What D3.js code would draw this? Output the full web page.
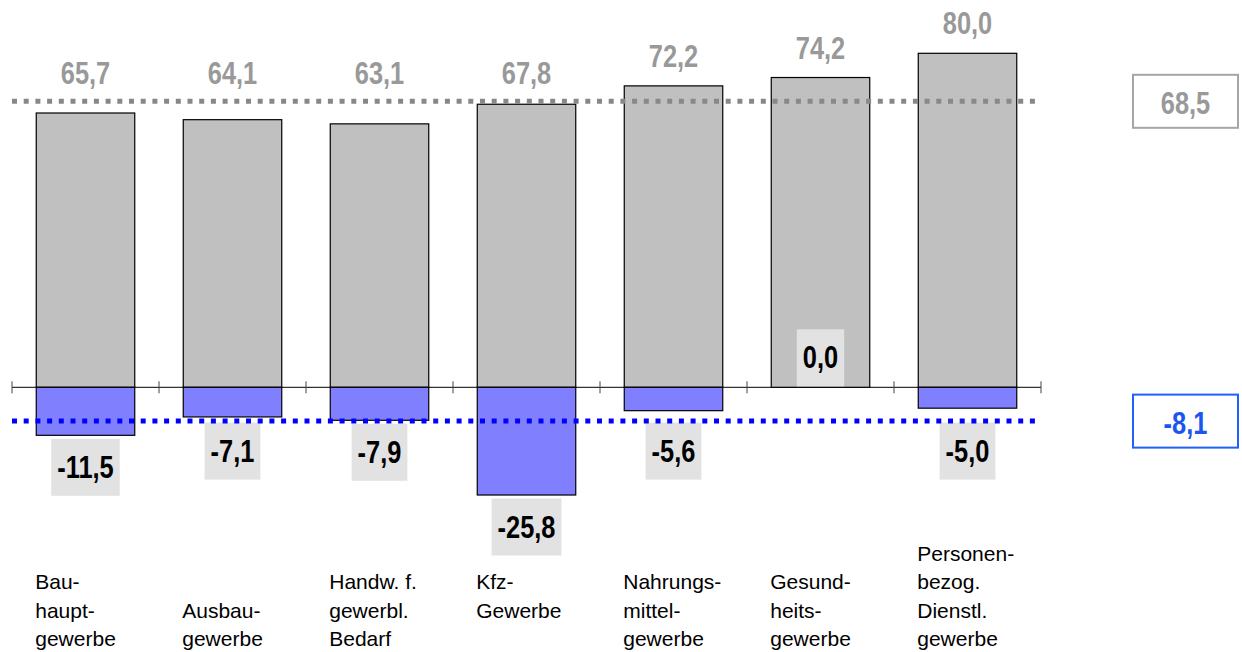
<!DOCTYPE html>
<html>
<head>
<meta charset="utf-8">
<script src="https://cdn.jsdelivr.net/npm/d3@7"></script>
<style>
  html, body { margin: 0; padding: 0; background: #fff; }
  svg { display: block; }
</style>
</head>
<body>
<svg id="chart" width="1242" height="652"></svg>
<script>
// ---------- data ----------
const categories = [
  "Bau-\nhaupt-\ngewerbe",
  "\nAusbau-\ngewerbe",
  "Handw. f.\ngewerbl.\nBedarf",
  "Kfz-\nGewerbe",
  "Nahrungs-\nmittel-\ngewerbe",
  "Gesund-\nheits-\ngewerbe",
  "Personen-\nbezog.\nDienstl.\ngewerbe"
];
const grayValues = [65.7, 64.1, 63.1, 67.8, 72.2, 74.2, 80.0];
const blueValues = [-11.5, -7.1, -7.9, -25.8, -5.6, 0.0, -5.0];
const grayAverage = 68.5;
const blueAverage = -8.1;

// ---------- font detection ----------
function fontAvailable(name) {
  const c = document.createElement("canvas").getContext("2d");
  const s = "65,7 -11,5 abcdefghijklm";
  c.font = "bold 40px monospace";
  const w1 = c.measureText(s).width;
  c.font = "bold 40px '" + name + "', monospace";
  const w2 = c.measureText(s).width;
  return Math.abs(w1 - w2) > 0.5;
}
const hasNarrow = fontAvailable("Liberation Sans Narrow");
const narrowFamily = hasNarrow ? "'Liberation Sans Narrow', 'Arial Narrow'" : "'Liberation Sans', Arial";
const narrowScale = hasNarrow ? 1 : 0.82;

const locale = d3.formatLocale({ decimal: ",", thousands: ".", grouping: [3], currency: ["", "€"], minus: "-" });
const fmt = locale.format(".1f");

// ---------- scales ----------
const svg = d3.select("#chart");
const x = d3.scaleBand()
  .domain(categories)
  .range([12, 1041])
  .paddingInner(0.33)
  .paddingOuter(0.165);
const y = d3.scaleLinear().domain([0, 80]).range([387.3, 53.3]);
const step = x.step();
const y0 = y(0);

const grayData = grayValues.map((v, i) => ({ v, c: categories[i] }));
const blueData = blueValues.map((v, i) => ({ v, c: categories[i] }));

// narrow bold text helper
function narrowText(g, tx, ty, str, size, color) {
  const t = g.append("text")
    .attr("transform", `translate(${tx},${ty}) scale(${narrowScale},1)`)
    .attr("text-anchor", "middle")
    .style("font-family", narrowFamily)
    .style("font-weight", "bold")
    .style("font-size", size + "px")
    .attr("fill", color)
    .text(str);
  return t.node().getComputedTextLength() * narrowScale;
}

// ---------- axis ----------
const axisG = svg.append("g").attr("transform", `translate(0,${y0})`);
axisG.call(d3.axisBottom(x).tickSize(0).tickFormat(""));
axisG.select(".domain").attr("stroke", "#000").attr("stroke-width", 1).attr("d", `M12,0H1041`);
const boundaries = d3.range(categories.length + 1).map(i => 12 + i * step);
axisG.selectAll("line.bt").data(boundaries).enter().append("line")
  .attr("class", "bt")
  .attr("x1", d => d).attr("x2", d => d)
  .attr("y1", -6).attr("y2", 6)
  .attr("stroke", "#444").attr("stroke-width", 1);

// ---------- bars ----------
svg.append("g").selectAll("rect").data(grayData).enter().append("rect")
  .attr("x", d => x(d.c))
  .attr("width", x.bandwidth())
  .attr("y", d => y(d.v))
  .attr("height", d => y0 - y(d.v))
  .attr("fill", "#c0c0c0")
  .attr("stroke", "#000").attr("stroke-width", 1.2);

svg.append("g").selectAll("rect").data(blueData.filter(d => d.v < 0)).enter().append("rect")
  .attr("x", d => x(d.c))
  .attr("width", x.bandwidth())
  .attr("y", y0)
  .attr("height", d => y(d.v) - y0)
  .attr("fill", "#8080ff")
  .attr("stroke", "#000").attr("stroke-width", 1.2);

// ---------- blue value label boxes ----------
const boxG = svg.append("g");
const blueLineY = y(blueAverage);
blueData.forEach(d => {
  const cx = x(d.c) + x.bandwidth() / 2;
  const g = boxG.append("g");
  const boxH = 57;
  const top = d.v < 0 ? Math.max(y(d.v) + 3.5, blueLineY + 1.5) : y0 - 1 - boxH;
  const rect = g.append("rect").attr("fill", "#e2e2e2");
  const w = narrowText(g, cx, top + 39, fmt(d.v), 31, "#000");
  const bw = w + 12;
  rect.attr("x", cx - bw / 2).attr("y", top).attr("width", bw).attr("height", boxH);
});

// ---------- average lines ----------
svg.append("line")
  .attr("x1", 12).attr("x2", 1041)
  .attr("y1", y(grayAverage)).attr("y2", y(grayAverage))
  .attr("stroke", "#888").attr("stroke-width", 5)
  .attr("stroke-dasharray", "5,6.7");
svg.append("line")
  .attr("x1", 12).attr("x2", 1041)
  .attr("y1", blueLineY).attr("y2", blueLineY)
  .attr("stroke", "#0000ff").attr("stroke-width", 5)
  .attr("stroke-dasharray", "5,6.7");

// bring label texts on top of the lines
boxG.selectAll("text").each(function(){ svg.node().appendChild(this); });

// ---------- gray value labels ----------
const grayLabelG = svg.append("g");
grayData.forEach(d => {
  const cx = x(d.c) + x.bandwidth() / 2;
  const base = Math.min(y(d.v) - 19, y(grayAverage) - 17);
  narrowText(grayLabelG, cx, base, fmt(d.v), 31, "#999");
});

// ---------- average boxes (right) ----------
function avgBox(v, color, textColor) {
  const cy = y(v);
  const g = svg.append("g");
  g.append("rect")
    .attr("x", 1133).attr("y", cy - 26.5)
    .attr("width", 105).attr("height", 53)
    .attr("fill", "#fff").attr("stroke", color).attr("stroke-width", 2);
  narrowText(g, 1185.5, cy + 13, fmt(v), 31, textColor);
}
avgBox(grayAverage, "#a6a6a6", "#999");
avgBox(blueAverage, "#2060ff", "#1a56f0");

// ---------- category labels ----------
const catG = svg.append("g");
categories.forEach(c => {
  const lines = c.split("\n");
  const lx = x(c) - 1;
  const lh = 28.5;
  const first = Math.min(589, 646 - (lines.length - 1) * lh);
  const t = catG.append("text")
    .attr("x", lx)
    .style("font-family", "'Liberation Sans', Arial, sans-serif")
    .style("font-size", "21px")
    .attr("fill", "#000");
  lines.forEach((ln, k) => {
    if (ln) t.append("tspan").attr("x", lx).attr("y", first + k * lh).text(ln);
  });
});
</script>
</body>
</html>
